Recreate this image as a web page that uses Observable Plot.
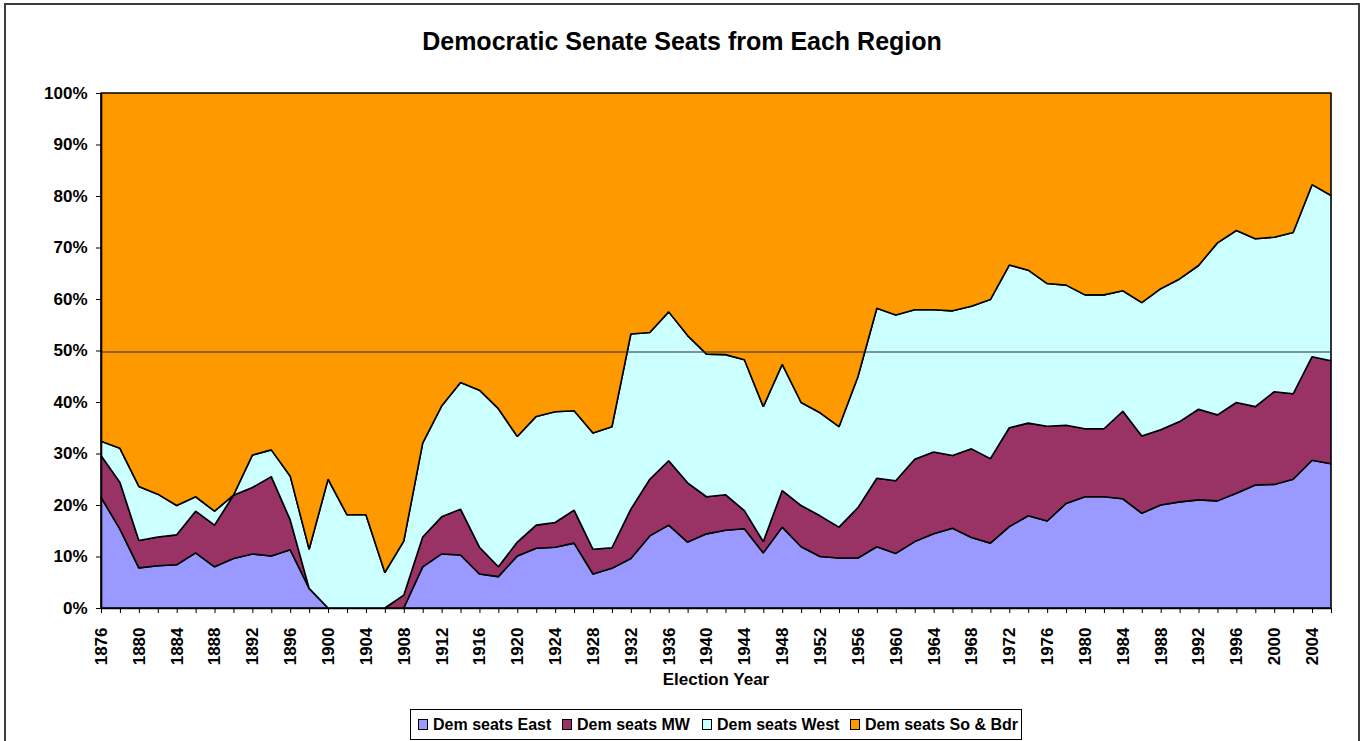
<!DOCTYPE html>
<html>
<head>
<meta charset="utf-8">
<script src="https://cdn.jsdelivr.net/npm/d3@7"></script>
<script src="https://cdn.jsdelivr.net/npm/@observablehq/plot@0.6"></script>
<style>
  html, body { margin: 0; padding: 0; background: #fff; overflow: hidden; }
  body { width: 1369px; height: 741px; position: relative; font-family: Arial, "Liberation Sans", sans-serif; }
  #border { position: absolute; left: 4px; top: 3px; width: 1356px; height: 800px; box-sizing: border-box; border: 2px solid #3c3c3c; }
  #title { position: absolute; left: 0; top: 26px; width: 1364px; text-align: center; font-size: 25px; line-height: 30px; font-weight: bold; color: #000; }
  #chart { position: absolute; left: 0; top: 70px; }
  #xlabel { position: absolute; left: 101px; width: 1230px; top: 670px; text-align: center; font-size: 17px; line-height: 20px; font-weight: bold; }
  #legend { position: absolute; left: 410px; top: 709px; width: 612px; height: 31px; box-sizing: border-box; border: 1px solid #000; background: #fff; }
  .item { position: absolute; top: 0; height: 29px; display: flex; align-items: center; font-size: 16px; font-weight: bold; white-space: nowrap; }
  .sw { width: 8px; height: 9px; border: 1px solid #000; margin-right: 5px; flex: none; }
</style>
</head>
<body>
<div id="border"></div>
<div id="title">Democratic Senate Seats from Each Region</div>
<div id="chart"></div>
<div id="xlabel">Election Year</div>
<div id="legend"></div>
<script>
const years = [1876,1878,1880,1882,1884,1886,1888,1890,1892,1894,1896,1898,1900,1902,1904,1906,1908,1910,1912,1914,1916,1918,1920,1922,1924,1926,1928,1930,1932,1934,1936,1938,1940,1942,1944,1946,1948,1950,1952,1954,1956,1958,1960,1962,1964,1966,1968,1970,1972,1974,1976,1978,1980,1982,1984,1986,1988,1990,1992,1994,1996,1998,2000,2002,2004,2006];

const east = [21.5,15.3,7.8,8.2,8.4,10.7,8.0,9.6,10.5,10.1,11.3,3.8, 0,0,0,0,0, 8.0,10.5,10.3,6.6,6.1,10.1,11.6,11.8,12.6,6.6,7.7,9.6,14.0,16.1,12.8,14.4,15.1,15.4, 10.7,15.7,11.9,10.0,9.7,9.7,11.9,10.6,12.9,14.4,15.5,13.7,12.6,15.8,17.9, 16.9,20.3,21.6,21.6,21.2,18.4,20.0,20.6,21.0,20.8,22.3,23.9,24.0,25.0,28.7,28.0];

const mw = [8.1,9.1,5.3,5.6,5.8,8.1,8.1,12.3,12.9,15.4,5.8,0, 0,0,0,0,2.5, 5.8,7.2,8.9,5.2,1.9,2.7,4.5,4.8,6.4,4.8,4.0,9.6,11.0,12.5,11.5,7.2,6.9,3.5, 2.2,7.1,8.0,7.9,6.0,9.8,13.3,14.1,16.0,15.9,14.1,17.2,16.4,19.2,18.0, 18.4,15.2,13.2,13.2,17.0,15.0,14.6,15.6,17.6,16.7,17.6,15.2,18.0,16.6,20.1,20.0];

const west = [2.8,6.6,10.5,8.3,5.7,2.8,2.7,0,6.3,5.2,8.5,7.6, 25.0,18.1,18.1,6.9,10.5, 18.2,21.5,24.6,30.5,30.7,20.5,21.1,21.5,19.3,22.6,23.5,34.0,28.5,28.9,28.6,27.7,27.2,29.3, 26.2,24.5,20.0,20.0,19.5,25.4,33.0,32.2,29.0,27.6,28.1,27.7,30.9,31.6,29.7, 27.7,27.2,26.0,26.0,23.4,25.9,27.4,27.7,27.9,33.4,33.4,32.6,30.0,31.3,33.4,32.1];

const south = [67.6,69.0,76.4,77.9,80.1,78.4,81.2,78.1,70.3,69.3,74.4,88.6, 75.0,81.9,81.9,93.1,87.0, 68.0,60.8,56.2,57.7,61.3,66.7,62.8,61.9,61.7,66.0,64.8,46.8,46.5,42.5,47.1,50.7,50.8,51.8, 60.9,52.7,60.1,62.1,64.8,55.1,41.8,43.1,42.1,42.1,42.3,41.4,40.1,33.4,34.4, 37.0,37.3,39.2,39.2,38.4,40.7,38.0,36.1,33.5,29.1,26.7,28.3,28.0,27.1,17.8,19.9];

const regions = ["Dem seats East", "Dem seats MW", "Dem seats West", "Dem seats So & Bdr"];
const colors = ["#9999FF", "#993366", "#CCFFFF", "#FF9900"];
const yTicks = [0,10,20,30,40,50,60,70,80,90,100];
const xLabelYears = [1876,1880,1884,1888,1892,1896,1900,1904,1908,1912,1916,1920,1924,1928,1932,1936,1940,1944,1948,1952,1956,1960,1964,1968,1972,1976,1980,1984,1988,1992,1996,2000,2004];
const refLine = [50];

const series = [east, mw, west, south];
const data = [];
regions.forEach((r, i) => {
  years.forEach((y, j) => data.push({year: y, region: r, value: series[i][j]}));
});

const chart = Plot.plot({
  width: 1369,
  height: 598,
  marginLeft: 101,
  marginRight: 38,
  marginTop: 23,
  marginBottom: 60,
  style: {fontFamily: "Arial, 'Liberation Sans', sans-serif", color: "#000", background: "transparent", overflow: "visible"},
  x: {domain: [1876, 2006], axis: null},
  y: {domain: [0, 100], axis: null},
  color: {domain: regions, range: colors},
  marks: [
    Plot.areaY(data, {x: "year", y: "value", z: "region", fill: "region", order: regions, stroke: "#000", strokeWidth: 1.6, strokeLinejoin: "miter"}),
    Plot.ruleY(refLine, {stroke: "#2a2a2a", strokeWidth: 1.2, dy: 1}),
    Plot.ruleY([0], {stroke: "#000", strokeWidth: 1.6}),
    Plot.ruleX([1876], {stroke: "#000", strokeWidth: 1.6}),
    Plot.axisY({ticks: yTicks, tickFormat: d => d + "%", tickSize: 5, tickPadding: 9, fontSize: 17, fontWeight: "bold", label: null, stroke: "#000"}),
    Plot.axisX({ticks: years, tickFormat: () => "", tickSize: 5, label: null, stroke: "#000"}),
    Plot.axisX({ticks: xLabelYears, tickFormat: d => String(d), tickSize: 0, tickPadding: 19, tickRotate: -90, fontSize: 17, fontWeight: "bold", label: null})
  ]
});
document.getElementById("chart").appendChild(chart);

const legend = document.getElementById("legend");
const lefts = [7, 151, 291, 439];
regions.forEach((r, i) => {
  const it = document.createElement("div");
  it.className = "item";
  it.style.left = lefts[i] + "px";
  const sw = document.createElement("div");
  sw.className = "sw";
  sw.style.background = colors[i];
  const t = document.createElement("span");
  t.textContent = r;
  it.appendChild(sw);
  it.appendChild(t);
  legend.appendChild(it);
});
</script>
</body>
</html>
